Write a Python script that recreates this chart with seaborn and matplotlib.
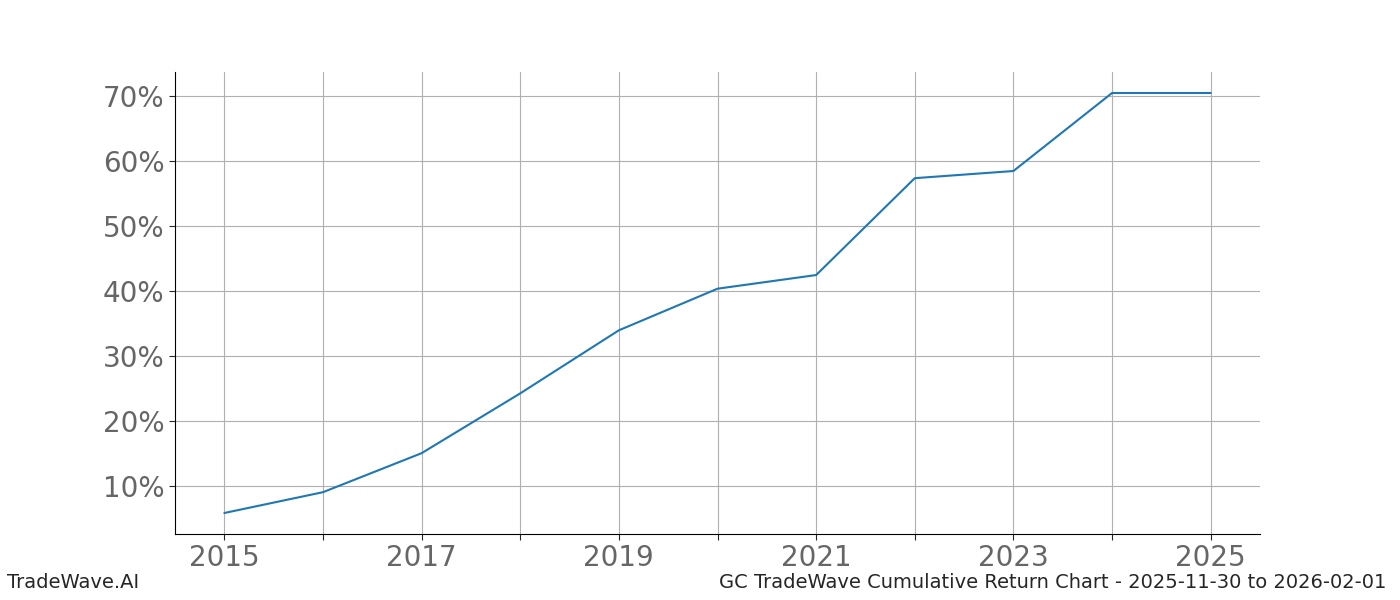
import matplotlib
matplotlib.use("Agg")
import matplotlib.pyplot as plt
import seaborn as sns
import pandas as pd
from matplotlib.ticker import FuncFormatter

years = [2015, 2016, 2017, 2018, 2019, 2020, 2021, 2022, 2023, 2024, 2025]
returns = [5.9, 9.1, 15.1, 24.3, 34.0, 40.4, 42.5, 57.4, 58.5, 70.5, 70.5]
yticks = [10, 20, 30, 40, 50, 60, 70]
xlabels = [2015, 2017, 2019, 2021, 2023, 2025]

sns.set_style("white")
fig = plt.figure(figsize=(14, 6), dpi=100)
ax = fig.add_axes([0.125, 0.11, 0.775, 0.77])
df = pd.DataFrame({"year": years, "ret": returns})
sns.lineplot(data=df, x="year", y="ret", ax=ax, color="#1f77b4", linewidth=1.5)
ax.set_xlim(2014.5, 2025.5)
ax.set_xticks(years)
ax.set_xticklabels([str(y) if y in xlabels else "" for y in years])
ax.set_yticks(yticks)
ax.yaxis.set_major_formatter(FuncFormatter(lambda v, p: f"{v:.0f}%"))
ax.grid(True, color="#b0b0b0", linewidth=0.8)
ax.tick_params(axis="both", labelsize=20, labelcolor="#666666", length=4, left=True, bottom=True)
ax.set_xlabel("")
ax.set_ylabel("")
for s in ["top", "right"]:
    ax.spines[s].set_visible(False)
for s in ["left", "bottom"]:
    ax.spines[s].set_color("black")
    ax.spines[s].set_linewidth(0.8)
fig.text(0.005, 0.02, "TradeWave.AI", fontsize=14, ha="left")
fig.text(0.99, 0.02, "GC TradeWave Cumulative Return Chart - 2025-11-30 to 2026-02-01", fontsize=14, ha="right")
fig.savefig("out.png", dpi=100)
